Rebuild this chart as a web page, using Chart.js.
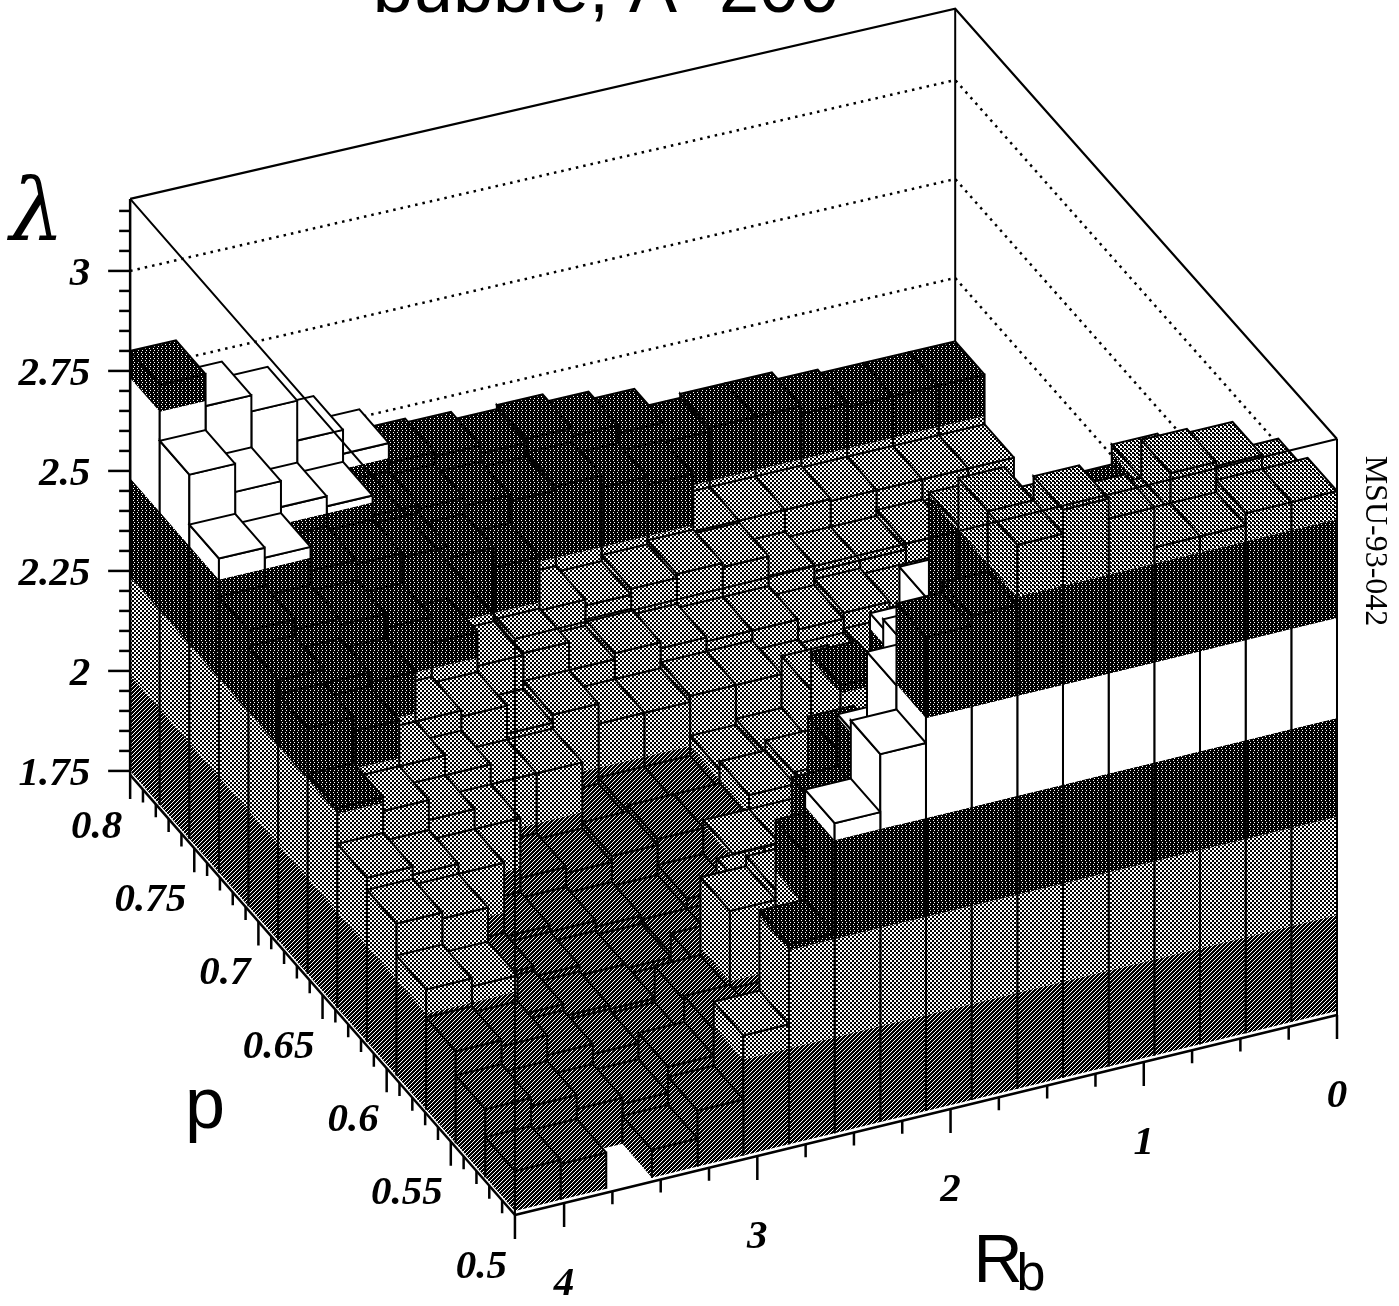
<!DOCTYPE html>
<html>
<head>
<meta charset="utf-8">
<title>lambda lego plot</title>
<script src="https://cdn.jsdelivr.net/npm/chart.js@4"></script>
<style>
  html, body { margin: 0; padding: 0; background: #fff; }
  canvas { display: block; }
</style>
</head>
<body>
<canvas id="lego" width="1399" height="1306"></canvas>
<script>
// lambda per bin, one list per p bin (front p=0.5 first), Rb from the high end (left) to 0 (right)
var row00 = [1.85, 1.84, null, 1.82, 1.89, 2.05, 2.25, 2.525, 2.67, 2.935, 2.96, 3.11, 3.17, 3.12, 3.02, 3.02, 3.05, 3.05];
var row01 = [1.92, 1.90, 1.865, 1.85, 1.915, 1.98, 1.97, 2.365, 2.365, 2.73, 2.79, 3.11, 3.05, 3.0, 3.0, 3.095, 3.085, 3.015];
var row02 = [1.98, 1.965, 1.915, 1.89, 1.88, 1.97, 2.165, 2.19, 2.36, 2.49, 2.70, 2.99, 2.87, 2.88, 2.95, 3.0, 2.9, 2.84];
var row03 = [2.05, 2.03, 1.93, 1.90, 1.89, 1.865, 1.94, 2.1, 2.1, 2.40, 2.3, 2.72, 2.8, 2.8, 2.8, 2.8, 2.75, 2.7];
var row04 = [2.13, 2.115, 1.94, 1.915, 1.89, 1.88, 1.89, 1.89, 1.95, 2.04, 2.09, 2.52, 2.3, 2.3, 2.3, 2.3, 2.3, 2.3];
var row05 = [2.16, 2.14, 2.115, 1.93, 1.915, 1.90, 1.89, 1.915, 2.0, 2.0, 2.065, 2.115, 2.1, 2.1, 2.1, 2.1, 2.1, 2.1];
var row06 = [2.25, 2.215, 2.165, 2.115, 1.965, 1.95, 1.965, 1.98, 1.98, 2.035, 2.06, 2.255, 2.03, 2.04, 2.03, 2.04, 2.04, 2.04];
var row07 = [2.365, 2.33, 2.215, 2.165, 2.115, 2.115, 1.95, 1.965, 1.965, 2.015, 2.03, 2.16, 2.04, 2.05, 2.05, 2.065, 2.065, 2.05];
var row08 = [2.40, 2.365, 2.34, 2.215, 2.20, 2.13, 2.15, 2.10, 2.10, 2.115, 2.115, 2.09, 2.08, 2.09, 2.08, 2.065, 2.08, 2.08];
var row09 = [2.44, 2.415, 2.40, 2.365, 2.30, 2.215, 2.22, 2.15, 2.165, 2.15, 2.14, 2.14, 2.115, 2.13, 2.115, 2.115, 2.115, 2.115];
var row10 = [2.535, 2.51, 2.45, 2.44, 2.43, 2.40, 2.35, 2.215, 2.20, 2.215, 2.225, 2.215, 2.165, 2.15, 2.15, 2.165, 2.16, 2.165];
var row11 = [2.66, 2.59, 2.525, 2.50, 2.45, 2.44, 2.42, 2.405, 2.415, 2.385, 2.365, 2.22, 2.22, 2.22, 2.215, 2.215, 2.215, 2.215];
var row12 = [2.80, 2.72, 2.68, 2.58, 2.52, 2.47, 2.46, 2.44, 2.45, 2.43, 2.41, 2.36, 2.37, 2.37, 2.35, 2.34, 2.34, 2.34];
var lambdaRows = [row00, row01, row02, row03, row04, row05, row06, row07, row08, row09, row10, row11, row12];

var levelEdges = [1.99, 2.235, 2.4825, 2.7325, 2.98];
var lambdaTicks = [1.75, 2, 2.25, 2.5, 2.75, 3];
var lambdaLabels = ['1.75', '2', '2.25', '2.5', '2.75', '3'];
var pTicks = [0.5, 0.55, 0.6, 0.65, 0.7, 0.75, 0.8];
var pLabels = ['0.5', '0.55', '0.6', '0.65', '0.7', '0.75', '0.8'];
var rbTicks = [0, 1, 2, 3, 4];
var rbLabels = ['0', '1', '2', '3', '4'];
var dottedLevels = [2.5, 2.75, 3];

// oblique view of the box: a counts p bins, b counts Rb bins
var nP = 13, nRb = 18;
var rbMax = 4.2544, pMin = 0.5, pMax = 0.8, lamBase = 1.74, lamFloor = 1.75, lamTop = 3.18;
function view(a, b, lam) {
    var w = (a / nP) * (1 - b / nRb);      // the back corner sits a little off the parallelogram
    return {
        x: 1337 - 45.67 * b - 29.6 * a + 3 * w,
        y: 1015 + 11.11 * b - 33.85 * a + 4 * w - (lam - lamBase) * 400 * (1 - 0.01 * w)
    };
}
function atP(p, lam) { return view((p - pMin) / (pMax - pMin) * nP, nRb, lam); }
function atRb(rb, lam) { return view(0, rb / rbMax * nRb, lam); }

function tile(rows) {
    var c = document.createElement('canvas');
    c.width = rows[0].length; c.height = rows.length;
    var g = c.getContext('2d');
    g.fillStyle = '#fff'; g.fillRect(0, 0, c.width, c.height);
    g.fillStyle = '#000';
    rows.forEach(function (r, y) {
        r.split('').forEach(function (ch, x) { if (ch === '#') g.fillRect(x, y, 1, 1); });
    });
    return g.createPattern(c, 'repeat');
}
var ink = tile(['#.##', '####', '##.#', '####']);       // darkest bands
var midInk = tile(['##.#', '#.##', '.###', '###.']);     // bottom band
var lightInk = tile(['##..', '##..', '..##', '..##']);   // light grey band
var topInk = tile(['##..', '###.', '..##', '..##']);     // highest band
var levelFills = [midInk, lightInk, ink, '#ffffff', ink, topInk];

function levelOf(lam) {
    var n = 0;
    while (n < levelEdges.length && lam >= levelEdges[n]) n++;
    return n;
}

var sets = [];
function poly(points, fillStyle) {
    sets.push({
        data: points.concat([points[0]]), fill: 'shape', backgroundColor: fillStyle,
        borderWidth: 0, borderColor: 'rgba(0,0,0,0)', pointRadius: 0, tension: 0
    });
}
function stroke(points, width, dash) {
    sets.push({
        data: points, fill: false, borderColor: '#000', borderWidth: width,
        borderDash: dash || [], pointRadius: 0, tension: 0
    });
}

// wall between two corners, striped per lambda level, from lo up to hi
function wall(a0, b0, a1, b1, lo, hi) {
    if (hi <= lo) return;
    var cuts = [lo];
    levelEdges.forEach(function (e) { if (e > lo && e < hi) cuts.push(e); });
    cuts.push(hi);
    for (var k = 0; k < cuts.length - 1; k++) {
        poly([view(a0, b0, cuts[k]), view(a1, b1, cuts[k]), view(a1, b1, cuts[k + 1]), view(a0, b0, cuts[k + 1])],
            levelFills[levelOf((cuts[k] + cuts[k + 1]) / 2)]);
    }
    stroke([view(a0, b0, lo), view(a0, b0, hi), view(a1, b1, hi), view(a1, b1, lo)], 2);
}

// back panels drawn first
stroke([view(nP, nRb, lamTop), view(nP, 0, lamTop), view(0, 0, lamTop)], 2.2);
stroke([view(nP, 0, lamFloor), view(nP, 0, lamTop)], 2);
stroke([view(0, 0, lamBase), view(0, 0, lamTop)], 2);
dottedLevels.forEach(function (lam) {
    stroke([view(nP, nRb, lam), view(nP, 0, lam), view(0, 0, lam)], 2.5, [2.5, 5]);
});

// bars, back to front
for (var i = nP - 1; i >= 0; i--) {
    for (var col = nRb - 1; col >= 0; col--) {
        var j = nRb - 1 - col;               // j counts bins from Rb=0
        var lam = lambdaRows[i][col];
        if (lam === null) continue;
        var frontLam = i > 0 && lambdaRows[i - 1][col] !== null ? lambdaRows[i - 1][col] : lamFloor;
        var leftLam = col > 0 && lambdaRows[i][col - 1] !== null ? lambdaRows[i][col - 1] : lamFloor;
        wall(i + 1, j + 1, i, j + 1, leftLam, lam);
        wall(i, j + 1, i, j, frontLam, lam);
        var lid = [view(i, j, lam), view(i, j + 1, lam), view(i + 1, j + 1, lam), view(i + 1, j, lam)];
        poly(lid, levelFills[levelOf(lam)]);
        stroke(lid.concat([lid[0]]), 2);
    }
}

// front edges of the box sit over the bars
stroke([view(nP, nRb, lamTop), view(0, nRb, lamTop), view(0, 0, lamTop)], 2);
stroke([view(0, nRb, lamBase), view(0, nRb, lamTop)], 2);

// lambda axis
stroke([view(nP, nRb, lamBase), view(nP, nRb, lamTop)], 2.5);
var t, base;
for (t = 35; t <= 63; t++) {
    var lamTick = t * 0.05;
    if (lamTick > lamTop) break;
    base = view(nP, nRb, lamTick);
    stroke([base, { x: base.x - (t % 5 === 0 ? 22 : 11), y: base.y }], 2.5);
}
// p axis
stroke([view(nP, nRb, lamBase), view(0, nRb, lamBase)], 2.5);
for (t = 50; t <= 80; t++) {
    base = atP(t / 100, lamBase);
    stroke([base, { x: base.x, y: base.y + (t % 5 === 0 ? 24 : 13) }], 2.5);
}
// Rb axis
stroke([view(0, nRb, lamBase), view(0, 0, lamBase)], 2.5);
for (t = 0; t <= 16; t++) {
    base = atRb(t / 4, lamBase);
    stroke([base, { x: base.x, y: base.y + (t % 4 === 0 ? 24 : 13) }], 2.5);
}

sets.reverse();   // Chart.js paints the first dataset last

var labelPlugin = {
    id: 'labels',
    afterDraw: function (chart) {
        var g = chart.ctx, sx = chart.scales.x, sy = chart.scales.y;
        function put(text, pt, dx, dy, font, align) {
            g.font = font;
            g.textAlign = align || 'center';
            g.textBaseline = 'middle';
            g.fillStyle = '#000';
            g.fillText(text, sx.getPixelForValue(pt.x) + dx, sy.getPixelForValue(pt.y) + dy);
        }
        var tickFont = 'italic bold 41px "Liberation Serif"';
        lambdaTicks.forEach(function (v, n) { put(lambdaLabels[n], view(nP, nRb, v), -40, 3, tickFont, 'right'); });
        pTicks.forEach(function (v, n) { put(pLabels[n], atP(v, lamBase), -8, 52, tickFont, 'right'); });
        rbTicks.forEach(function (v, n) { put(rbLabels[n], atRb(v, lamBase), 0, 81, tickFont); });

        put('\u03bb', { x: 37, y: 218 }, 0, 0, 'italic 86px "DejaVu Serif"');
        put('p', { x: 205, y: 1108 }, 0, 0, '72px "Liberation Sans"');
        put('R', { x: 998, y: 1263 }, 0, 0, '68px "Liberation Sans"');
        put('b', { x: 1031, y: 1276 }, 0, 0, '52px "Liberation Sans"');
        g.textBaseline = 'alphabetic';
        g.font = '72px "Liberation Sans"';
        g.textAlign = 'center';
        g.fillText('bubble, A=200', 606, 12);

        g.save();
        g.translate(1374, 541);
        g.rotate(Math.PI / 2);
        g.font = '32px "Liberation Serif"';
        g.textBaseline = 'middle';
        g.fillText('MSU-93-042', 0, 0);
        g.restore();
    }
};

new Chart(document.getElementById('lego'), {
    type: 'line',
    data: { datasets: sets },
    plugins: [labelPlugin],
    options: {
        responsive: false,
        animation: false,
        parsing: false,
        normalized: false,
        layout: { padding: 0 },
        events: [],
        plugins: { legend: { display: false }, tooltip: { enabled: false }, title: { display: false } },
        scales: {
            x: { type: 'linear', min: 0, max: 1399, display: false },
            y: { type: 'linear', min: 0, max: 1306, reverse: true, display: false }
        },
        elements: { line: { borderJoinStyle: 'miter', capBezierPoints: false } },
        clip: false
    }
});
</script>
</body>
</html>
